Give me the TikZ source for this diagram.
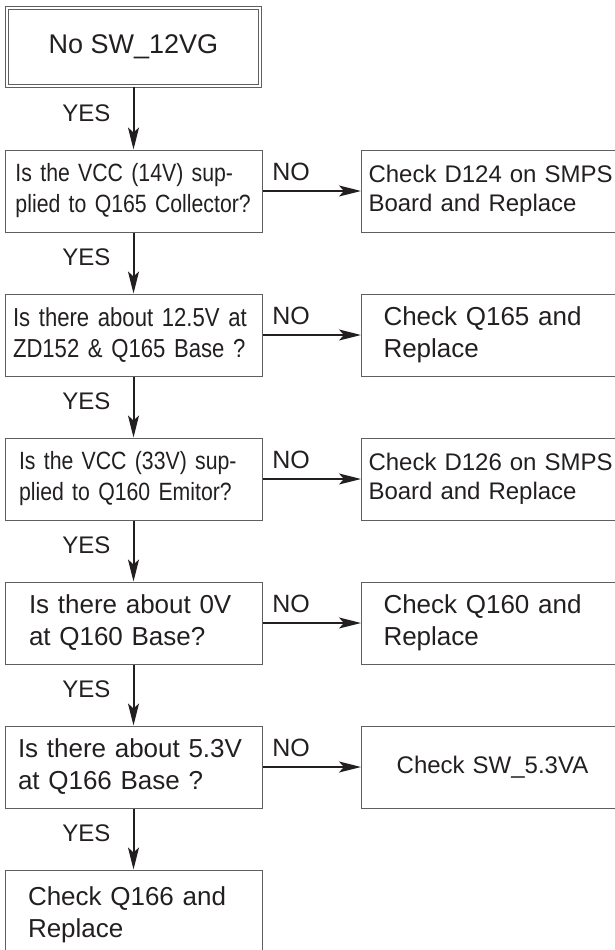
\documentclass[tikz,border=0pt]{standalone}
\usepackage{fontspec}
\setmainfont{Liberation Sans}
\newfontfamily\condensed{Liberation Sans}[FakeStretch=0.85]
\usetikzlibrary{arrows.meta}
\definecolor{linegray}{HTML}{5F5F5F}
\definecolor{ink}{HTML}{231F20}

\newcommand{\fontS}{\condensed\fontsize{25}{31}\selectfont}
\newcommand{\fontM}{\fontsize{24}{29}\selectfont}
\newcommand{\fontL}{\fontsize{26}{32}\selectfont}

\tikzset{
  box/.style={draw=linegray, line width=1pt, minimum height=82pt, inner xsep=0pt, inner ysep=0pt, text=ink, align=left},
  lbox/.style={box, minimum width=257pt},
  rbox/.style={box, minimum width=262pt, anchor=west},
  flow/.style={-{Stealth[length=22pt,width=11pt,inset=5pt]}, line width=2pt, draw=ink},
  lab/.style={text=ink, inner sep=0pt, font=\fontsize{24}{28}\selectfont}
}

\begin{document}
\begin{tikzpicture}[x=1pt,y=-1pt]
    \useasboundingbox (0,0) rectangle (615,950);

    % Inicio
    \node[box, double=white, double distance=2pt, minimum width=253pt, minimum height=78pt, align=center, font=\fontsize{27}{32}\selectfont] (start) at (133.5,47) {No SW\_12VG};

    % Preguntas
    \node[lbox, text width=236pt, font=\fontS] (q1) at (133.5,191) {Is the VCC (14V) sup-\\plied to Q165 Collector?};
    \node[lbox, text width=241pt, font=\condensed\fontsize{26}{31}\selectfont] (q2) at (133.5,335) {Is there about 12.5V at\\ZD152 \& Q165 Base ?};
    \node[lbox, text width=229pt, font=\fontS] (q3) at (133.5,479) {Is the VCC (33V) sup-\\plied to Q160 Emitor?};
    \node[lbox, text width=209pt, font=\fontL] (q4) at (133.5,623) {Is there about 0V\\at Q160 Base?};
    \node[lbox, text width=231pt, font=\fontL] (q5) at (133.5,767) {Is there about 5.3V\\at Q166 Base ?};
    \node[lbox, text width=211pt, minimum height=90pt, font=\fontL] (fin) at (133.5,915) {Check Q166 and\\Replace};

    % Reparaciones
    \node[rbox, text width=248pt, font=\fontM] (r1) at (361,191) {Check D124 on SMPS\\Board and Replace};
    \node[rbox, text width=218pt, font=\fontL] (r2) at (361,335) {Check Q165 and\\Replace};
    \node[rbox, text width=248pt, font=\fontM] (r3) at (361,479) {Check D126 on SMPS\\Board and Replace};
    \node[rbox, text width=218pt, font=\fontL] (r4) at (361,623) {Check Q160 and\\Replace};
    \node[rbox, text width=248pt, align=center, font=\fontM] (r5) at (361,767) {Check SW\_5.3VA};

    % Flechas YES
    \draw[flow] (start) -- (q1) node[lab, pos=0.42, left=22pt] {YES};
    \draw[flow] (q1) -- (q2) node[lab, pos=0.4, left=22pt] {YES};
    \draw[flow] (q2) -- (q3) node[lab, pos=0.4, left=22pt] {YES};
    \draw[flow] (q3) -- (q4) node[lab, pos=0.4, left=22pt] {YES};
    \draw[flow] (q4) -- (q5) node[lab, pos=0.4, left=22pt] {YES};
    \draw[flow] (q5) -- (fin) node[lab, pos=0.4, left=22pt] {YES};

    % Flechas NO
    \draw[flow] (q1) -- (r1) node[lab, pos=0.29, above=9pt, font=\fontsize{25}{30}\selectfont] {NO};
    \draw[flow] (q2) -- (r2) node[lab, pos=0.29, above=9pt, font=\fontsize{25}{30}\selectfont] {NO};
    \draw[flow] (q3) -- (r3) node[lab, pos=0.29, above=9pt, font=\fontsize{25}{30}\selectfont] {NO};
    \draw[flow] (q4) -- (r4) node[lab, pos=0.29, above=9pt, font=\fontsize{25}{30}\selectfont] {NO};
    \draw[flow] (q5) -- (r5) node[lab, pos=0.29, above=9pt, font=\fontsize{25}{30}\selectfont] {NO};
\end{tikzpicture}
\end{document}
